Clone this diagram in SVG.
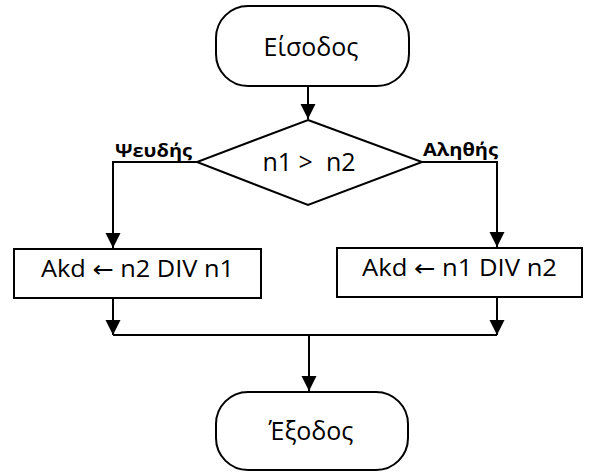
<svg xmlns="http://www.w3.org/2000/svg" width="595" height="472" viewBox="0 0 595 472">
  <style>
    .shape { fill: #ffffff; stroke: #000000; stroke-width: 2; }
    .line { fill: none; stroke: #000000; stroke-width: 2; }
    .lbl { font-family: "Open Sans", "Noto Sans", "DejaVu Sans", sans-serif; fill: #000000; text-anchor: middle; }
    .big { font-size: 25px; }
    .mid { font-size: 23px; }
    .tag { font-family: "Open Sans", "Noto Sans", "DejaVu Sans", sans-serif; font-size: 17px; font-weight: bold; fill: #000000; }
  </style>
  <defs>
    <marker id="arrow" markerUnits="userSpaceOnUse" markerWidth="16" markerHeight="16" refX="15" refY="7.5" orient="auto">
      <path d="M0,0 L15,7.5 L0,15 z" fill="#000000"/>
    </marker>
  </defs>
  <rect width="595" height="472" fill="#ffffff"/>

  <g id="connectors">
    <line class="line" x1="308" y1="86" x2="308" y2="119" marker-end="url(#arrow)"/>
    <polyline class="line" points="197,162 113,162 113,248" marker-end="url(#arrow)"/>
    <polyline class="line" points="422,162 497,162 497,247" marker-end="url(#arrow)"/>
    <line class="line" x1="113" y1="298" x2="113" y2="335" marker-end="url(#arrow)"/>
    <line class="line" x1="497" y1="297" x2="497" y2="335" marker-end="url(#arrow)"/>
    <line class="line" x1="113" y1="335" x2="497" y2="335"/>
    <line class="line" x1="309" y1="335" x2="309" y2="391" marker-end="url(#arrow)"/>
    <text class="tag" x="115" y="157" textLength="77" lengthAdjust="spacingAndGlyphs">Ψευδής</text>
    <text class="tag" x="423" y="156" textLength="75" lengthAdjust="spacingAndGlyphs">Αληθής</text>
  </g>

  <g id="start">
    <rect class="shape" x="216" y="6" width="193" height="80" rx="32" ry="32"/>
    <text class="lbl big" x="311" y="56">Είσοδος</text>
  </g>

  <g id="decision">
    <polygon class="shape" points="308,120 422,162 308,205 197,162"/>
    <text class="lbl big" x="309" y="171" xml:space="preserve">n1 &gt;  n2</text>
  </g>

  <g id="false-branch">
    <rect class="shape" x="14" y="249" width="247" height="49"/>
    <text class="lbl mid" x="137.5" y="277" textLength="193" lengthAdjust="spacingAndGlyphs">Akd ← n2 DIV n1</text>
  </g>

  <g id="true-branch">
    <rect class="shape" x="337" y="248" width="245" height="49"/>
    <text class="lbl mid" x="459.5" y="276" textLength="195" lengthAdjust="spacingAndGlyphs">Akd ← n1 DIV n2</text>
  </g>

  <g id="end">
    <rect class="shape" x="216" y="392" width="192" height="78" rx="32" ry="32"/>
    <text class="lbl big" x="311" y="440">Έξοδος</text>
  </g>
</svg>
